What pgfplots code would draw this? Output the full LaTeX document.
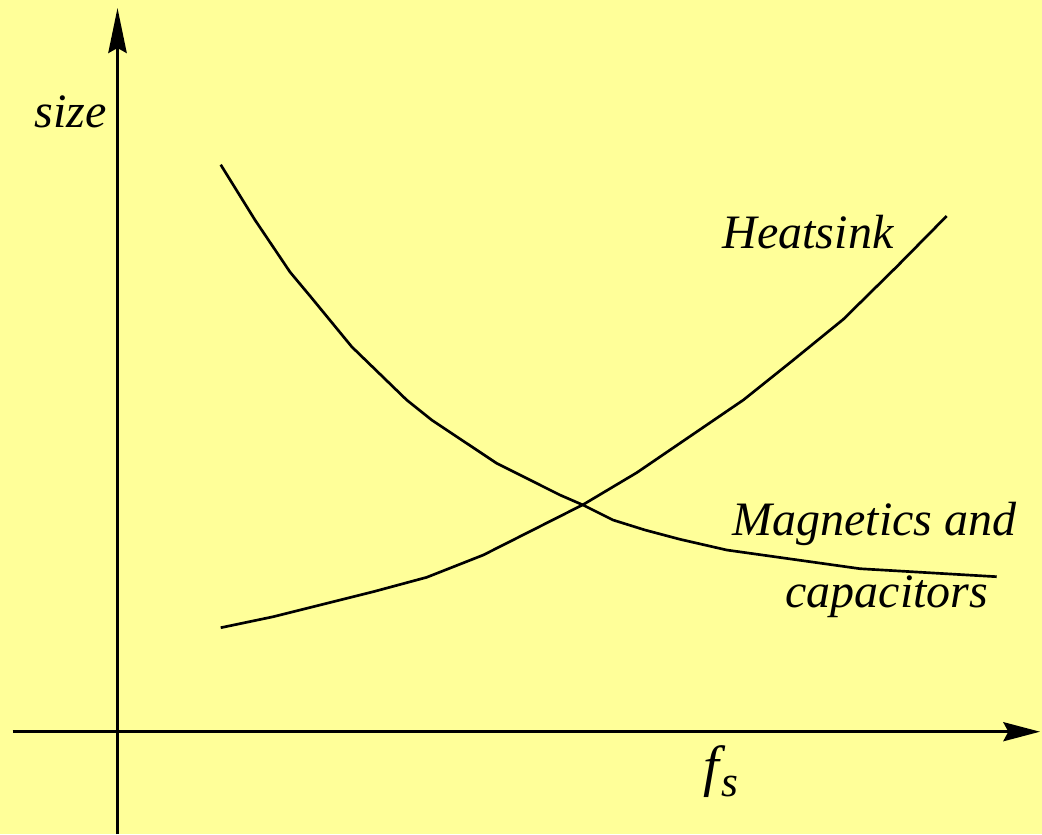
\documentclass[border=0pt]{standalone}
\usepackage{fontspec}
\setmainfont{Liberation Serif}
\usepackage{pgfplots}
\pgfplotsset{compat=1.18}
\usetikzlibrary{arrows.meta}
\definecolor{bgyellow}{RGB}{255,255,153}
\begin{document}
\begin{tikzpicture}
\begin{axis}[
  x=0.3pt, y=0.3pt,
  xmin=0, xmax=1042, ymin=0, ymax=834,
  hide axis,
  clip=true,
  font=\fontsize{14.4}{17}\selectfont\itshape,
]
\fill[bgyellow] (rel axis cs:0,0) rectangle (rel axis cs:1,1);
% axes
\addplot[black, line width=0.9pt, -{Stealth[length=11pt,width=5.7pt,inset=1.5pt]}]
  coordinates {(12.7,102.3) (1040,102.3)};
\addplot[black, line width=0.9pt, -{Stealth[length=13.5pt,width=5.5pt,inset=1.5pt]}]
  coordinates {(117.5,0) (117.5,826)};
% Magnetics and capacitors (pixel coords, y = 834 - py)
\addplot[black, line width=0.8pt] coordinates {
  (220.7,669.3) (255,614) (290,562) (311.7,536) (351.7,487.3)
  (406.7,434) (431.7,414) (496.7,370.7) (560,339) (583,329)
  (613,314) (645,304) (680,294.7) (726.7,284) (860,265.3) (996.7,257.3)
};
% Heatsink
\addplot[black, line width=0.8pt] coordinates {
  (220.7,206.3) (273.3,217.3) (373.3,242.3) (426.7,256.7) (483.3,279)
  (583.3,329.5) (636.7,361.3) (743.3,434) (793.3,474) (843.3,514.7)
  (896.7,567.3) (946.7,618)
};
\node[anchor=base west, inner sep=0pt] at (axis cs:34,706) {size};
\node[anchor=base west, inner sep=0pt] at (axis cs:722,586) {Heatsink};
\node[anchor=base west, inner sep=0pt] at (axis cs:732,299) {Magnetics and};
\node[anchor=base west, inner sep=0pt] at (axis cs:785,227) {capacitors};
\node[anchor=base west, inner sep=0pt] at (axis cs:703,49) {\fontsize{17}{20}\selectfont f\kern0.5pt\raisebox{-0.45ex}{\fontsize{13}{15}\selectfont s}};
\end{axis}
\end{tikzpicture}
\end{document}
